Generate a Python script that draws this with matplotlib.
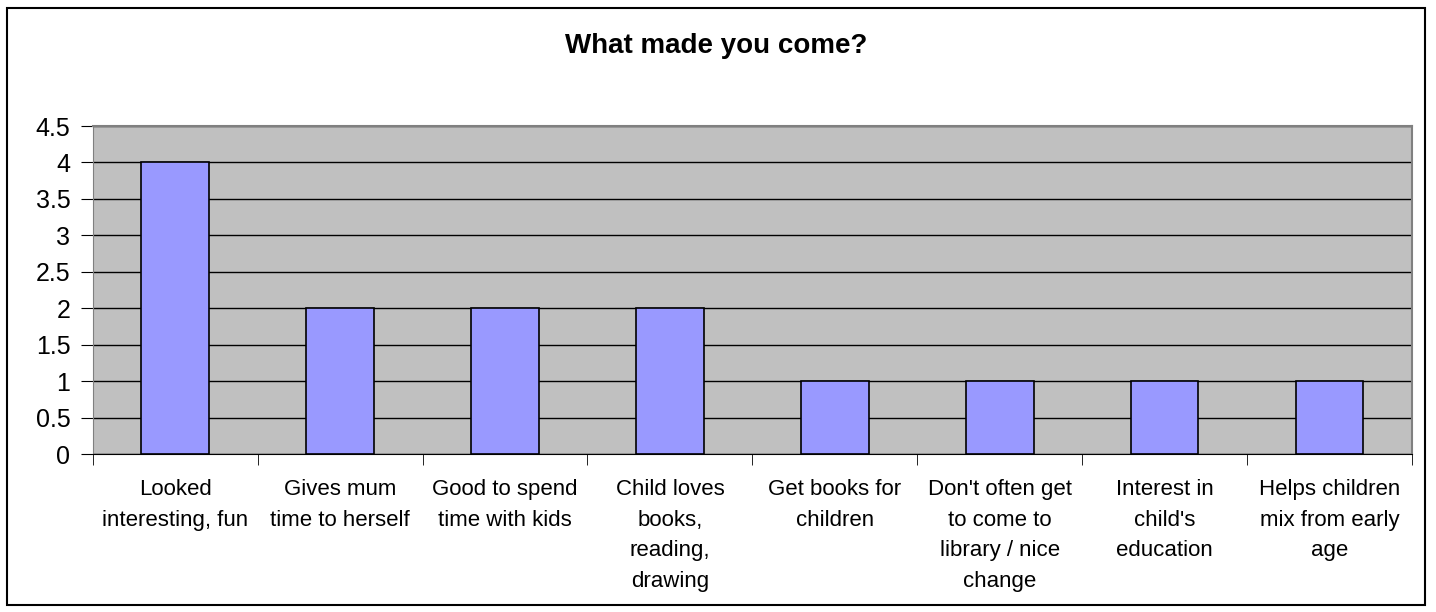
import matplotlib.pyplot as plt
from matplotlib.patches import Rectangle

categories = ['Looked\ninteresting, fun', 'Gives mum\ntime to herself', 'Good to spend\ntime with kids',
              'Child loves\nbooks,\nreading,\ndrawing', 'Get books for\nchildren',
              "Don't often get\nto come to\nlibrary / nice\nchange", "Interest in\nchild's\neducation",
              'Helps children\nmix from early\nage']
counts = [4, 2, 2, 2, 1, 1, 1, 1]
y_ticks = [0, 0.5, 1, 1.5, 2, 2.5, 3, 3.5, 4, 4.5]
y_labels = ['0', '0.5', '1', '1.5', '2', '2.5', '3', '3.5', '4', '4.5']

plt.rcParams['font.family'] = ['Liberation Sans', 'DejaVu Sans']

fig = plt.figure(figsize=(14.36, 6.12), dpi=100)
fig.patches.append(Rectangle((7 / 1436, 1 - 605 / 612), 1418 / 1436, 597 / 612,
                             transform=fig.transFigure, fill=False, edgecolor='black', linewidth=1.5))

ax = fig.add_axes([92.7 / 1436, 1 - 454 / 612, (1412 - 92.7) / 1436, (454 - 126) / 612])
ax.set_facecolor('#C0C0C0')
x = range(len(categories))
ax.bar(x, counts, width=0.41, color='#9999FF', edgecolor='black', linewidth=1.2, zorder=3)
ax.set_xlim(-0.5, len(categories) - 0.5)
ax.set_ylim(0, 4.5)
ax.set_yticks(y_ticks)
ax.set_yticklabels(y_labels, fontsize=18)
ax.yaxis.grid(True, color='black', linewidth=1)
ax.set_axisbelow(True)

ax.set_xticks(list(x))
ax.set_xticklabels(categories, fontsize=16, linespacing=1.6, va='top')
ax.tick_params(axis='x', length=0, pad=18)
ax.set_xticks([i + 0.5 for i in range(-1, len(categories))], minor=True)
ax.tick_params(axis='x', which='minor', length=8, direction='out', color='black')
ax.tick_params(axis='y', length=9, direction='out', pad=7, color='black')

for side in ['top', 'right']:
    ax.spines[side].set_color('#808080')
    ax.spines[side].set_linewidth(1.5)
ax.spines['left'].set_color('#808080')
ax.spines['bottom'].set_color('black')

fig.text(0.499, 1 - 46 / 612, 'What made you come?', ha='center', va='center',
         fontsize=20, fontweight='bold')

fig.savefig('out.png', dpi=100)
